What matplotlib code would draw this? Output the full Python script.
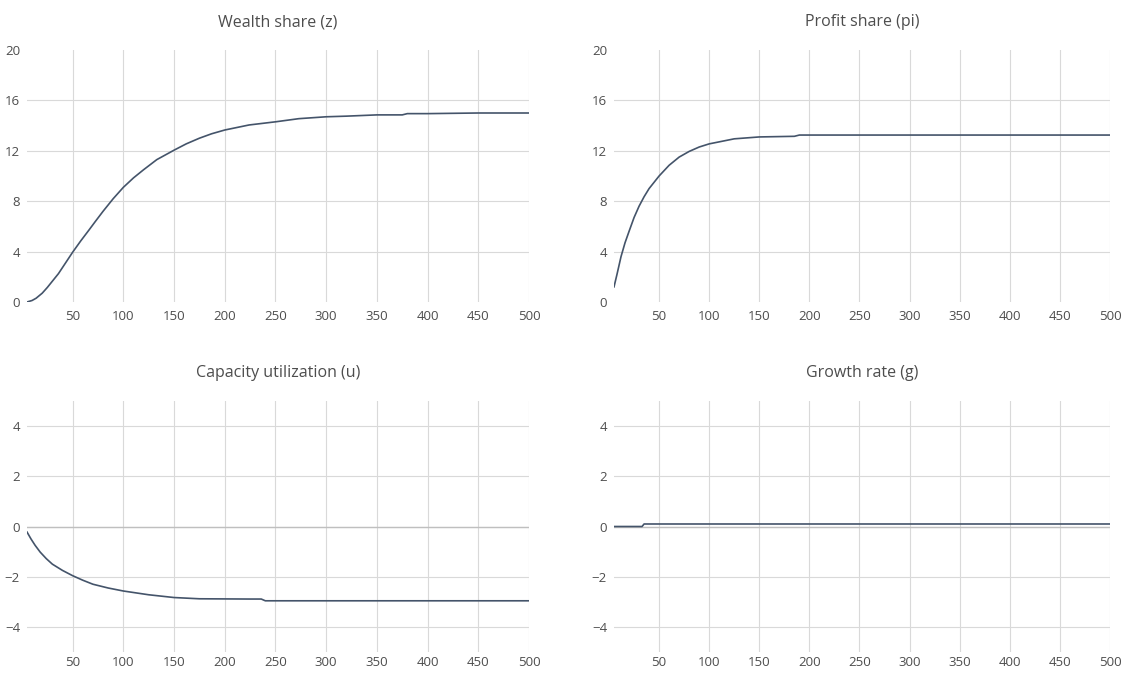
import matplotlib
matplotlib.use("Agg")
import matplotlib.pyplot as plt

plt.rcParams['font.family'] = ['Open Sans', 'DejaVu Sans']

# values
z_x = [5, 10, 14, 20, 25, 30, 36, 43, 50, 58, 66, 72, 80, 90, 100, 110, 120, 133, 150, 162, 175, 187,
       200, 224, 250, 273, 300, 320, 350, 375, 380, 400, 450, 500]
z_y = [0.0, 0.12, 0.3, 0.7, 1.15, 1.65, 2.25, 3.1, 3.95, 4.85, 5.7, 6.35, 7.2, 8.2, 9.1, 9.85, 10.5, 11.3, 12.05, 12.55, 13.0, 13.35,
       13.65, 14.05, 14.3, 14.55, 14.7, 14.75, 14.85, 14.85, 14.95, 14.95, 15.0, 15.0]

pi_x = [5, 8, 12, 16, 20, 25, 30, 35, 40, 45, 50, 60, 70, 80, 90, 100, 125, 150, 185, 190, 250, 500]
pi_y = [1.2, 2.2, 3.6, 4.7, 5.6, 6.7, 7.6, 8.35, 9.0, 9.5, 10.0, 10.85, 11.5, 11.95, 12.3, 12.55, 12.95, 13.1, 13.15, 13.25, 13.25, 13.25]

u_x = [5, 9, 13, 18, 24, 30, 40, 50, 60, 70, 85, 100, 125, 150, 175, 224, 236, 240, 300, 500]
u_y = [-0.22, -0.5, -0.75, -1.02, -1.28, -1.5, -1.75, -1.96, -2.14, -2.3, -2.45, -2.57, -2.72, -2.83, -2.88, -2.89, -2.89, -2.96, -2.96, -2.96]

g_x = [5, 33, 35, 100, 500]
g_y = [0.0, 0.0, 0.1, 0.1, 0.1]

x_ticks = [50, 100, 150, 200, 250, 300, 350, 400, 450, 500]
top_ticks = [0, 4, 8, 12, 16, 20]
bot_ticks = [-4, -2, 0, 2, 4]

line_col = '#44546A'
txt_col = '#4D4D4D'
grid_col = '#D9D9D9'

W, H = 1129, 675
fig = plt.figure(figsize=(W / 100, H / 100), dpi=100)


def make_ax(x0, x1, y0, y1):
    return fig.add_axes([x0 / W, 1 - y1 / H, (x1 - x0) / W, (y1 - y0) / H])


panels = [
    (make_ax(27, 529, 50, 302), z_x, z_y, 'Wealth share (z)', (0, 20), top_ticks),
    (make_ax(614, 1110, 50, 302), pi_x, pi_y, 'Profit share (pi)', (0, 20), top_ticks),
    (make_ax(27, 529, 401, 652), u_x, u_y, 'Capacity utilization (u)', (-5, 5), bot_ticks),
    (make_ax(614, 1110, 401, 652), g_x, g_y, 'Growth rate (g)', (-5, 5), bot_ticks),
]

for ax, xs, ys, title, ylim, yt in panels:
    ax.set_xlim(5, 500)
    ax.set_ylim(*ylim)
    ax.set_xticks(x_ticks)
    ax.set_yticks(yt)
    ax.grid(True, color=grid_col, linewidth=0.8)
    ax.set_axisbelow(True)
    for s in ax.spines.values():
        s.set_visible(False)
    ax.tick_params(length=0, colors=txt_col, labelsize=9.5)
    ax.tick_params(axis='y', pad=5)
    if ylim[0] == 0:
        ax.tick_params(axis='x', pad=6)
        gl = ax.yaxis.get_gridlines()
        gl[0].set_visible(False)
        gl[-1].set_visible(False)
    else:
        ax.tick_params(axis='x', pad=3)
        ax.axhline(0, color='#BFBFBF', linewidth=1, zorder=1)
    ax.plot(xs, ys, color=line_col, linewidth=1.2, zorder=3)
    ax.set_title(title, color=txt_col, fontsize=11.5, pad=17)

fig.savefig('out.png', dpi=100)
